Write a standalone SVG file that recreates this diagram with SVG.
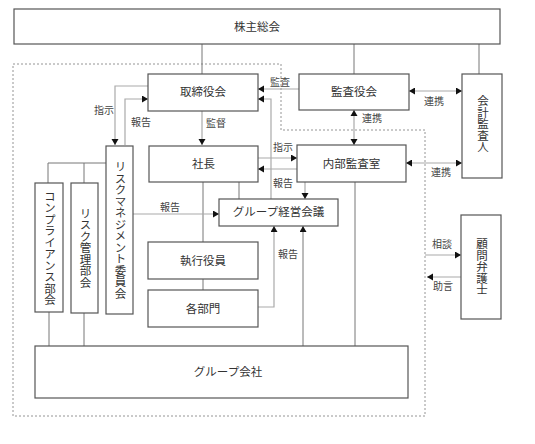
<svg xmlns="http://www.w3.org/2000/svg" width="535" height="444" viewBox="0 0 535 444">
<style>
.box{fill:#fff;stroke:#555;stroke-width:1.2}
.t{font-family:"Liberation Serif","Noto Sans CJK JP",serif;font-size:11.5px;fill:#333;text-anchor:middle;dominant-baseline:central}
.v{font-family:"Liberation Serif","Noto Sans CJK JP",serif;font-size:11.5px;fill:#333;text-anchor:middle;writing-mode:vertical-rl}
.lb{font-family:"Liberation Serif","Noto Sans CJK JP",serif;font-size:10px;fill:#444;text-anchor:middle;dominant-baseline:central}
.s{fill:none;stroke:#777;stroke-width:1}
.a{fill:none;stroke:#aaa;stroke-width:1.2}
.d{fill:none;stroke:#888;stroke-width:0.9;stroke-dasharray:2 2}
</style>
<defs>
<marker id="ah" markerUnits="userSpaceOnUse" markerWidth="8" markerHeight="8" refX="6" refY="3.5" orient="auto">
<path d="M0,0 L6,3.5 L0,7 Z" fill="#111"/>
</marker>
<marker id="as" markerUnits="userSpaceOnUse" markerWidth="8" markerHeight="8" refX="0" refY="3.5" orient="auto">
<path d="M6,0 L0,3.5 L6,7 Z" fill="#111"/>
</marker>
</defs>
<path class="d" d="M13,64 H281 V130 H425 V416 H13 Z"/>
<g id="connectors">
<path class="s" d="M202,44 V74"/>
<path class="s" d="M354,44 V74"/>
<path class="s" d="M479,44 V74"/>
<path class="a" d="M299,89 H258" marker-end="url(#ah)"/>
<path class="a" d="M202,111 V145" marker-end="url(#ah)"/>
<path class="a" d="M148,86 H115 V145" marker-end="url(#ah)"/>
<path class="a" d="M125,145 V99 H148" marker-end="url(#ah)"/>
<path class="a" d="M409,91 H462" marker-start="url(#as)" marker-end="url(#ah)"/>
<path class="a" d="M354,110 V145" marker-start="url(#as)" marker-end="url(#ah)"/>
<path class="a" d="M406,163 H462" marker-start="url(#as)" marker-end="url(#ah)"/>
<path class="a" d="M258,158 H297" marker-end="url(#ah)"/>
<path class="a" d="M297,169 H258" marker-end="url(#ah)"/>
<path class="a" d="M305,182 V199" marker-end="url(#ah)"/>
<path class="a" d="M271,199 V99 H258" marker-end="url(#ah)"/>
<path class="s" d="M239,182 V199"/>
<path class="s" d="M203,182 V242"/>
<path class="s" d="M203,279 V290"/>
<path class="a" d="M133,214 H219" marker-end="url(#ah)"/>
<path class="a" d="M258,307 H274 V226" marker-end="url(#ah)"/>
<path class="s" d="M303,346 V226" marker-end="url(#ah)"/>
<path class="s" d="M355,182 V346"/>
<path class="s" d="M106,163 H48 V183 M84,163 V183"/>
<path class="s" d="M49,312 V346 M84,313 V346"/>
<path class="a" d="M425,255 H461" marker-end="url(#ah)"/>
<path class="a" d="M461,277 H427" marker-end="url(#ah)"/>
<text class="lb" x="280" y="82">監査</text>
<text class="lb" x="216" y="123">監督</text>
<text class="lb" x="104" y="110">指示</text>
<text class="lb" x="141" y="122">報告</text>
<text class="lb" x="434" y="101">連携</text>
<text class="lb" x="372" y="118">連携</text>
<text class="lb" x="441" y="172">連携</text>
<text class="lb" x="283" y="147">指示</text>
<text class="lb" x="283" y="183">報告</text>
<text class="lb" x="170" y="207">報告</text>
<text class="lb" x="288" y="254">報告</text>
<text class="lb" x="442" y="244">相談</text>
<text class="lb" x="443" y="286">助言</text>
</g>
<g id="kabunushi"><rect class="box" x="14" y="9" width="486" height="35"/><text class="t" x="257" y="27">株主総会</text></g>
<g id="torishimariyaku"><rect class="box" x="148" y="74" width="110" height="37"/><text class="t" x="203" y="92">取締役会</text></g>
<g id="kansayaku"><rect class="box" x="299" y="74" width="110" height="36"/><text class="t" x="354" y="92">監査役会</text></g>
<g id="kaikei"><rect class="box" x="462" y="74" width="40" height="104"/><text class="v" x="482" y="124">会計監査人</text></g>
<g id="shacho"><rect class="box" x="149" y="146" width="109" height="36"/><text class="t" x="203.5" y="164">社長</text></g>
<g id="naibu"><rect class="box" x="297" y="145" width="109" height="37"/><text class="t" x="351.5" y="163.5">内部監査室</text></g>
<g id="group-keiei"><rect class="box" x="219" y="199" width="119" height="27"/><text class="t" x="278.5" y="212">グループ経営会議</text></g>
<g id="risk-mgmt"><rect class="box" x="106" y="146" width="27" height="168"/><text class="v" x="119.5" y="230">リスクマネジメント委員会</text></g>
<g id="compliance"><rect class="box" x="35" y="183" width="28" height="129"/><text class="v" x="49" y="248">コンプライアンス部会</text></g>
<g id="risk-kanri"><rect class="box" x="71" y="183" width="27" height="130"/><text class="v" x="84.5" y="248">リスク管理部会</text></g>
<g id="shikko"><rect class="box" x="148" y="242" width="110" height="37"/><text class="t" x="203" y="261">執行役員</text></g>
<g id="kakubumon"><rect class="box" x="148" y="290" width="110" height="37"/><text class="t" x="203" y="309">各部門</text></g>
<g id="group-kaisha"><rect class="box" x="35" y="346" width="373" height="52"/><text class="t" x="228" y="372">グループ会社</text></g>
<g id="komon"><rect class="box" x="461" y="215" width="40" height="104"/><text class="v" x="481" y="267">顧問弁護士</text></g>
</svg>
